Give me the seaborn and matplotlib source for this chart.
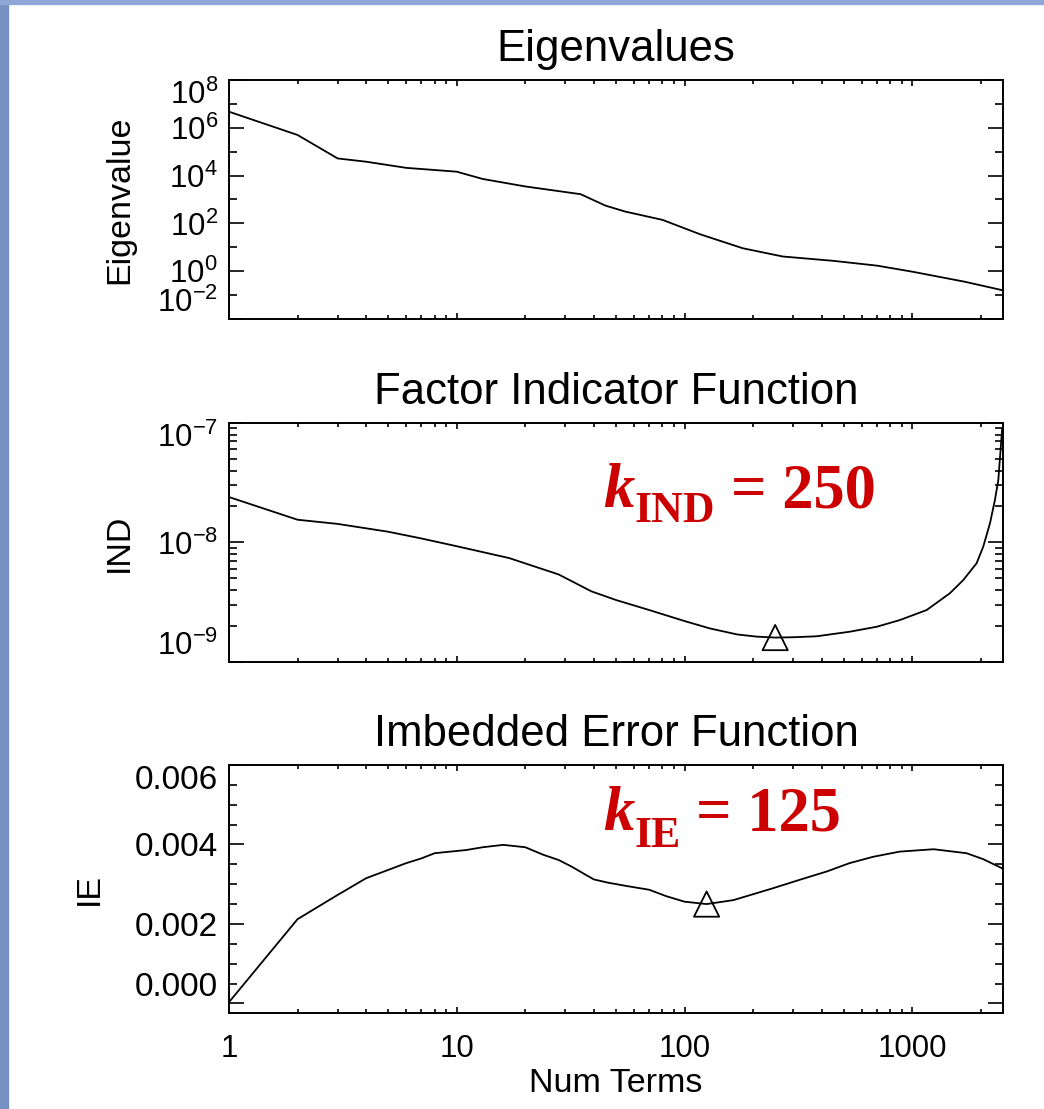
import matplotlib
matplotlib.use("Agg")
import matplotlib.pyplot as plt
from matplotlib.patches import Rectangle
from matplotlib.ticker import FixedLocator, NullFormatter
import seaborn as sns

# eigenvalue spectrum
eig_k = [1, 2, 3, 4, 6, 10, 13, 20, 35, 45, 55, 80, 117, 180, 270, 450, 700, 1000, 1700, 2480]
eig_val = [4.7e6, 5.0e5, 5.2e4, 3.8e4, 2.1e4, 1.45e4, 7.2e3, 3.5e3, 1.66e3, 5.5e2, 3.1e2,
           1.4e2, 35, 9.1, 4.1, 2.7, 1.7, 0.95, 0.36, 0.16]

# factor indicator function
ind_k = [1, 2, 3, 5, 7, 10, 17, 28, 39, 50, 70, 100, 129, 170, 207, 250, 300, 380, 530, 697,
         880, 1156, 1462, 1674, 1915, 2047, 2193, 2305, 2385, 2480]
ind_val = [2.4e-8, 1.55e-8, 1.43e-8, 1.23e-8, 1.08e-8, 9.3e-9, 7.4e-9, 5.4e-9, 3.9e-9, 3.3e-9,
           2.72e-9, 2.2e-9, 1.91e-9, 1.7e-9, 1.63e-9, 1.6e-9, 1.61e-9, 1.64e-9, 1.79e-9, 1.97e-9,
           2.24e-9, 2.72e-9, 3.76e-9, 4.85e-9, 6.7e-9, 9.2e-9, 1.45e-8, 2.27e-8, 3.33e-8, 9e-8]

# imbedded error function
ie_k = [1, 2, 3, 4, 6, 7, 8, 11, 13, 16, 20, 24, 28, 32, 37, 40, 46, 55, 70, 83, 100, 125,
        164, 245, 320, 421, 530, 673, 880, 1240, 1730, 2047, 2480]
ie_val = [0.00003, 0.00212, 0.00273, 0.00315, 0.00353, 0.00365, 0.00378, 0.00386, 0.00393,
          0.00399, 0.00393, 0.00374, 0.00361, 0.00344, 0.00323, 0.00312, 0.00304, 0.00296,
          0.00286, 0.0027, 0.00256, 0.0025, 0.0026, 0.0029, 0.00311, 0.00332, 0.00353,
          0.00369, 0.00382, 0.00388, 0.00378, 0.00363, 0.0034]

# chosen number of factors
k_ind, ind_min = 250, 1.6e-9
k_ie, ie_min = 125, 0.0025

x_ticks = [1, 10, 100, 1000]
x_ticklabels = ["1", "10", "100", "1000"]
x_minor = [m * d for d in (1, 10, 100) for m in range(2, 10)] + [2000]

eig_ticks = [1e-2, 1e0, 1e2, 1e4, 1e6, 1e8]
eig_ticklabels = [r"$10^{-2}$", r"$10^{0}$", r"$10^{2}$", r"$10^{4}$", r"$10^{6}$", r"$10^{8}$"]
eig_minor = [1e-1, 1e1, 1e3, 1e5, 1e7]

ind_ticks = [1e-9, 1e-8, 1e-7]
ind_ticklabels = [r"$10^{-9}$", r"$10^{-8}$", r"$10^{-7}$"]
ind_minor = [m * d for d in (1e-9, 1e-8) for m in range(2, 10)]

ie_ticks = [0.0, 0.002, 0.004, 0.006]
ie_ticklabels = ["0.000", "0.002", "0.004", "0.006"]
ie_minor = [0.0005 * i for i in range(13)]

sns.set_style("ticks")
plt.rcParams["font.family"] = ["Liberation Sans", "DejaVu Sans"]
plt.rcParams["mathtext.fontset"] = "custom"
plt.rcParams["mathtext.rm"] = "Liberation Sans"
plt.rcParams["text.color"] = "black"
plt.rcParams["axes.labelcolor"] = "black"
plt.rcParams["axes.edgecolor"] = "black"
plt.rcParams["xtick.color"] = "black"
plt.rcParams["ytick.color"] = "black"

fig = plt.figure(figsize=(10.44, 11.09), dpi=100)
fig.patch.set_facecolor("white")
# slide background strips
fig.add_artist(Rectangle((0, 0), 8 / 1044, 1, transform=fig.transFigure, color="#7592c2", zorder=0))
fig.add_artist(Rectangle((0, 1 - 4 / 1109), 1, 4 / 1109, transform=fig.transFigure, color="#8ea7d6", zorder=0))

ax1 = fig.add_axes([0.2193, 0.7124, 0.7414, 0.2155])
ax2 = fig.add_axes([0.2193, 0.4031, 0.7414, 0.2155])
ax3 = fig.add_axes([0.2193, 0.0866, 0.7414, 0.2236])

red = "#cc0000"
serif = "Liberation Serif"


def style_axis(ax, title, ylabel, label_x):
    ax.set_xscale("log")
    ax.set_xlim(1, 2500)
    ax.xaxis.set_major_locator(FixedLocator(x_ticks))
    ax.xaxis.set_minor_locator(FixedLocator(x_minor))
    ax.xaxis.set_minor_formatter(NullFormatter())
    for s in ax.spines.values():
        s.set_visible(True)
        s.set_linewidth(1.4)
    ax.tick_params(which="both", direction="in", top=True, right=True, width=1.2)
    ax.tick_params(axis="y", which="major", length=11, labelsize=24, pad=8)
    ax.tick_params(axis="y", which="minor", length=5.5)
    ax.tick_params(axis="x", which="major", length=4.5, labelsize=22.5, pad=15)
    ax.tick_params(axis="x", which="minor", length=3)
    ax.set_title(title, fontsize=31.5, pad=13.5)
    ax.set_ylabel(ylabel, fontsize=24.5)
    ax.yaxis.set_label_coords(label_x, 0.5)


def k_label(ax, x, y, sub, value, sub_drop):
    # k (bold italic) + subscript (bold) + "= value", chained on each other's boxes
    t1 = ax.text(x, y, "k", transform=ax.transAxes, color=red, fontsize=45,
                 family=serif, weight="bold", style="italic", ha="left", va="baseline")
    desc = 0.217 * 45
    t2 = ax.annotate(sub, xy=(1, 0), xycoords=t1, xytext=(0, desc - sub_drop),
                     textcoords="offset points", color=red, fontsize=31.5,
                     family=serif, weight="bold", ha="left", va="baseline")
    ax.annotate("= " + value, xy=(1, 0), xycoords=(t2, t1), xytext=(11.5, desc),
                textcoords="offset points", color=red, fontsize=45,
                family=serif, weight="bold", ha="left", va="baseline")


# Eigenvalues
sns.lineplot(x=eig_k, y=eig_val, ax=ax1, color="black", linewidth=1.3)
style_axis(ax1, "Eigenvalues", "Eigenvalue", -0.121)
ax1.set_yscale("log")
ax1.set_ylim(1e-2, 1e8)
ax1.yaxis.set_major_locator(FixedLocator(eig_ticks))
ax1.yaxis.set_minor_locator(FixedLocator(eig_minor))
ax1.yaxis.set_minor_formatter(NullFormatter())
ax1.set_yticklabels(eig_ticklabels)
ax1.tick_params(axis="y", which="major", labelsize=22.5)
ax1.set_xticklabels([])

# Factor indicator function
sns.lineplot(x=ind_k, y=ind_val, ax=ax2, color="black", linewidth=1.3)
sns.scatterplot(x=[k_ind], y=[ind_min], ax=ax2, marker="^", s=330,
                facecolor="none", edgecolor="black", linewidth=1.3, zorder=3)
style_axis(ax2, "Factor Indicator Function", "IND", -0.121)
ax2.set_yscale("log")
ax2.set_ylim(1e-9, 1e-7)
ax2.yaxis.set_major_locator(FixedLocator(ind_ticks))
ax2.yaxis.set_minor_locator(FixedLocator(ind_minor))
ax2.yaxis.set_minor_formatter(NullFormatter())
ax2.set_yticklabels(ind_ticklabels)
ax2.tick_params(axis="y", which="major", labelsize=22.5)
ax2.set_xticklabels([])
k_label(ax2, 0.483, 0.649, "IND", "250", 10.8)

# Imbedded error function
sns.lineplot(x=ie_k, y=ie_val, ax=ax3, color="black", linewidth=1.3)
sns.scatterplot(x=[k_ie], y=[ie_min], ax=ax3, marker="^", s=330,
                facecolor="none", edgecolor="black", linewidth=1.3, zorder=3)
style_axis(ax3, "Imbedded Error Function", "IE", -0.160)
ax3.set_ylim(-0.00024, 0.006)
ax3.yaxis.set_major_locator(FixedLocator(ie_ticks))
ax3.yaxis.set_minor_locator(FixedLocator(ie_minor))
ax3.set_yticklabels(ie_ticklabels)
ax3.set_xticklabels(x_ticklabels)
ax3.set_xlabel("Num Terms", fontsize=24.5)
ax3.xaxis.set_label_coords(0.5, -0.222)
k_label(ax3, 0.483, 0.738, "IE", "125", 12)

# IDL keeps the end labels inside the axis
for ax in (ax1, ax2, ax3):
    ticks = ax.yaxis.get_major_ticks()
    ticks[0].label1.set_va("bottom")
    ticks[-1].label1.set_va("top")

fig.savefig("out.png", dpi=100)
